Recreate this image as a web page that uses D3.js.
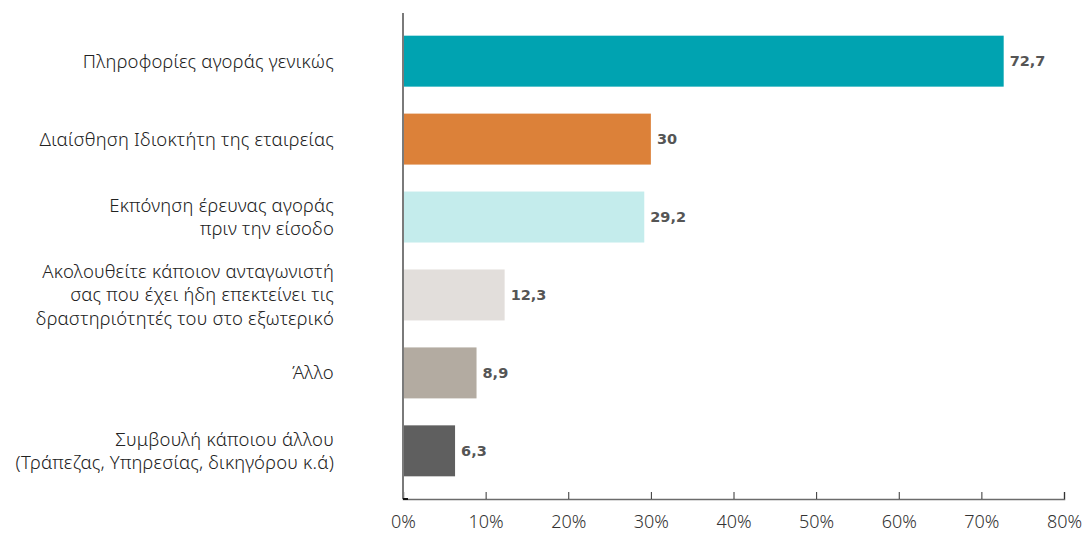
<!DOCTYPE html>
<html><head><meta charset="utf-8">
<script src="https://cdn.jsdelivr.net/npm/d3@7"></script>
<style>body{margin:0;background:#fff}svg{display:block}</style>
</head><body>
<svg id="c" width="1087" height="536"></svg>
<script>
const categories = [
  ["Πληροφορίες αγοράς γενικώς"],
  ["Διαίσθηση Ιδιοκτήτη της εταιρείας"],
  ["Εκπόνηση έρευνας αγοράς", "πριν την είσοδο"],
  ["Ακολουθείτε κάποιον ανταγωνιστή", "σας που έχει ήδη επεκτείνει τις", "δραστηριότητές του στο εξωτερικό"],
  ["Άλλο"],
  ["Συμβουλή κάποιου άλλου", "(Τράπεζας, Υπηρεσίας, δικηγόρου κ.ά)"]
];
const values = [72.7, 30, 29.2, 12.3, 8.9, 6.3];
const valueLabels = ["72,7", "30", "29,2", "12,3", "8,9", "6,3"];
const colors = ["#00A3B1", "#DC8139", "#C4ECEC", "#E2DEDB", "#B3ABA1", "#5F5F5F"];
const ticks = [0, 10, 20, 30, 40, 50, 60, 70, 80];

const svg = d3.select("#c");
const x = d3.scaleLinear().domain([0, 80]).range([403, 1064]);
const y = d3.scaleBand().domain(d3.range(categories.length)).range([13, 499])
  .paddingInner(0.346).paddingOuter(0.291);

// bars
svg.append("g").selectAll("rect").data(values).join("rect")
  .attr("x", x(0)).attr("y", (d, i) => y(i))
  .attr("width", d => x(d) - x(0)).attr("height", y.bandwidth())
  .attr("fill", (d, i) => colors[i]);

// value labels
svg.append("g").selectAll("text").data(values).join("text")
  .attr("x", d => x(d) + 6).attr("y", (d, i) => y(i) + y.bandwidth() / 2)
  .attr("dy", "0.36em")
  .attr("font-family", "DejaVu Sans, sans-serif")
  .attr("font-weight", "bold").attr("font-size", 14.5).attr("fill", "#555")
  .text((d, i) => valueLabels[i]);

// x axis
const xa = svg.append("g").attr("transform", "translate(0,499)")
  .call(d3.axisBottom(x).tickValues(ticks).tickSize(-7).tickPadding(16).tickFormat(d => d + "%"));
xa.select(".domain").attr("stroke", "#6b6b6b").attr("stroke-width", 1.5);
xa.selectAll(".tick line").attr("stroke", "#333").attr("stroke-width", 1);
xa.selectAll(".tick text").attr("font-family", "Noto Sans, sans-serif").attr("font-weight", 300)
  .attr("font-size", 18).attr("fill", "#333");

// y axis line
svg.append("line").attr("x1", x(0)).attr("x2", x(0)).attr("y1", 13).attr("y2", 499)
  .attr("stroke", "#7a7a7a").attr("stroke-width", 2);
svg.append("line").attr("x1", x(0)).attr("x2", x(0) + 5).attr("y1", 499).attr("y2", 499)
  .attr("stroke", "#111").attr("stroke-width", 2);

// category labels
const lh = 23.5;
const cg = svg.append("g");
categories.forEach((lines, i) => {
  const cy = y(i) + y.bandwidth() / 2;
  const t = cg.append("text").attr("text-anchor", "end")
    .attr("font-family", "Noto Sans, sans-serif").attr("font-weight", 300)
    .attr("font-size", 18.5).attr("letter-spacing", 0.2).attr("fill", "#222");
  lines.forEach((ln, j) => {
    t.append("tspan").attr("x", 334)
      .attr("y", cy + (j - (lines.length - 1) / 2) * lh).attr("dy", "0.35em").text(ln);
  });
});
</script>
</body></html>
